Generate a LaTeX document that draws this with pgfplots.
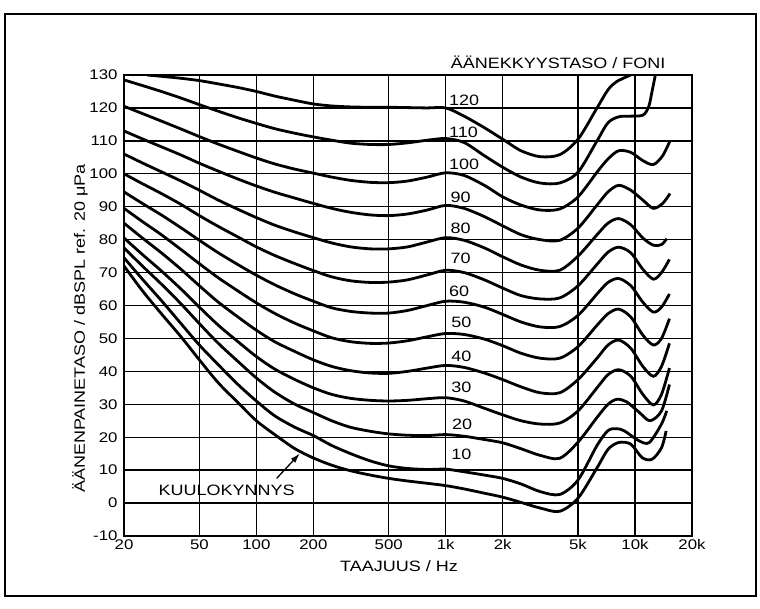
\documentclass[border=0pt]{standalone}
\usepackage{fontspec}
\setmainfont{Liberation Sans}[FakeStretch=1.2]
\usepackage{pgfplots}
\pgfplotsset{compat=1.18}
\usetikzlibrary{arrows.meta}
\tikzset{
  curve/.style={black, line width=2.8pt, smooth, tension=0.5},
  lbl/.style={anchor=west, font=\fontsize{15}{17}\selectfont, inner sep=0pt},
}

\begin{document}
\begin{tikzpicture}[x=1pt,y=1pt]
\useasboundingbox (0,0) rectangle (760,608);
\draw[line width=1.8pt] (5,12) rectangle (756,594);
\begin{axis}[
  at={(124pt,72pt)}, anchor=south west,
  scale only axis, width=568pt, height=461pt,
  xmode=log, xmin=20, xmax=20000, ymin=-10, ymax=130,
  xtick={20,50,100,200,500,1000,2000,5000,10000,20000},
  xticklabels={20,50,100,200,500,1k,2k,5k,10k,20k},
  ytick={-10,0,...,130},
  grid=major, major grid style={black, line width=1.3pt},
  major tick length=0pt,
  axis line style={line width=1.7pt},
  ticklabel style={font=\fontsize{14}{16}\selectfont},
  yticklabel style={xshift=-3pt},
  /pgf/number format/assume math mode=true,
]
% kuulokynnys
\addplot[curve] coordinates {(20,72) (25,64.5) (31.5,57.5) (40,50.5) (50,43.5) (63,36.5) (80,30.5) (100,25) (125,20.8) (160,16.5) (200,13.7) (250,11.5) (315,9.8) (400,8.5) (500,7.5) (630,6.7) (800,6) (1000,5.3) (1250,4.3) (1600,3) (2000,1.8) (2500,0.2) (3150,-1.5) (4000,-2.5) (5000,1.5) (6300,10.7) (7200,16.3) (8200,18.4) (9500,17.9) (10900,13.8) (12300,13.3) (13800,16.8) (14600,21.9)};
% 10
\addplot[curve] coordinates {(20,74.5) (25,68) (31.5,61.5) (40,54.5) (50,48) (63,42) (80,36) (100,31) (125,26.5) (160,23) (200,20.5) (250,17.5) (315,15) (400,12.8) (500,11.3) (630,10.5) (800,10.2) (1000,10.3) (1250,9.5) (1600,8.5) (2000,7.5) (2500,5.8) (3150,3.5) (4000,2.6) (5000,7) (6300,17.5) (7200,22) (8000,22.6) (8800,21.9) (10500,18.9) (11900,18.4) (13800,24) (14700,28)};
% 20
\addplot[curve] coordinates {(20,77.5) (25,72) (31.5,66.5) (40,60.5) (50,54.5) (63,48.5) (80,43) (100,38) (125,33.7) (160,30) (200,27.5) (250,25) (315,23) (400,21.8) (500,21) (630,20.6) (800,20.5) (1000,20.8) (1250,20.3) (1600,19.3) (2000,18.3) (2500,16.5) (3150,14.5) (4000,13.6) (5000,18.5) (6300,26) (7200,30) (8000,31.5) (9000,30.8) (10500,27.6) (12000,25) (13800,28) (15200,36)};
% 30
\addplot[curve] coordinates {(20,80.5) (25,75.5) (31.5,70.5) (40,65) (50,59.5) (63,54) (80,49) (100,44.5) (125,40.7) (160,37.5) (200,35) (250,33) (315,31.8) (400,31.2) (500,31) (630,31.2) (800,31.7) (1000,32) (1250,31) (1600,28.8) (2000,26.8) (2500,25) (3150,24) (4000,24.3) (5000,28) (6300,35) (7200,39) (8200,40.5) (9500,38.5) (11000,33) (12500,29.8) (13800,33) (15200,41)};
% 40
\addplot[curve] coordinates {(20,85) (25,80.5) (31.5,76) (40,71) (50,66) (63,61) (80,56.5) (100,52.5) (125,49) (160,46) (200,43.5) (250,41.5) (315,40.2) (400,39.5) (500,39.4) (630,40) (800,41) (1000,41.8) (1250,41.2) (1600,39.5) (2000,37.5) (2500,35.3) (3150,33.5) (4000,33.5) (5000,37.5) (6300,44) (7200,48) (8200,49.5) (9500,47) (11000,41.5) (12500,38.5) (13800,41.5) (15200,48.5)};
% 50
\addplot[curve] coordinates {(20,89.5) (25,85.5) (31.5,81.5) (40,77) (50,72.7) (63,68.4) (80,64.4) (100,60.8) (125,57.6) (160,54.6) (200,52.3) (250,50.2) (315,49) (400,48.5) (500,48.6) (630,49.3) (800,50.5) (1000,51.5) (1250,51.2) (1600,49.8) (2000,47.8) (2500,45.5) (3150,44) (4000,44) (5000,47.5) (6300,54) (7200,57.5) (8200,58.9) (9500,56.5) (11000,51) (12500,48) (13800,50) (15200,56)};
% 60
\addplot[curve] coordinates {(20,94.5) (25,91) (31.5,87.5) (40,83.6) (50,79.8) (63,76) (80,72.4) (100,69.2) (125,66.3) (160,63.5) (200,61.3) (250,59.3) (315,58.2) (400,57.7) (500,57.7) (630,58.5) (800,60) (1000,61.3) (1250,61) (1600,59.5) (2000,57.3) (2500,55) (3150,53.5) (4000,53.6) (5000,57) (6300,63.5) (7200,67) (8200,68.2) (9500,66) (11000,61) (12500,58) (13800,59.5) (15200,63.5)};
% 70
\addplot[curve] coordinates {(20,100) (25,97) (31.5,94) (40,90.7) (50,87.3) (63,84) (80,80.8) (100,77.8) (125,75.2) (160,72.7) (200,70.6) (250,68.7) (315,67.5) (400,67) (500,67.1) (630,67.8) (800,69.3) (1000,70.7) (1250,70) (1600,67.8) (2000,65.3) (2500,63) (3150,62) (4000,62.3) (5000,66) (6300,72.5) (7200,76.2) (8200,77.7) (9500,76) (11000,71) (12500,68) (13800,70) (15200,74)};
% 80
\addplot[curve] coordinates {(20,106) (25,103.3) (31.5,100.6) (40,97.8) (50,95) (63,92) (80,89.2) (100,86.7) (125,84.4) (160,82.3) (200,80.6) (250,79) (315,77.8) (400,77.2) (500,77.2) (630,77.8) (800,79.3) (1000,80.6) (1250,79.8) (1600,77.5) (2000,74.8) (2500,72.3) (3150,70.7) (4000,70.7) (5000,75) (6300,81.5) (7200,85) (8200,86.4) (9500,84.5) (11000,80.5) (12500,78.3) (13800,78.5) (14700,80.3)};
% 90
\addplot[curve] coordinates {(20,113) (25,110.6) (31.5,108.2) (40,105.7) (50,103.2) (63,100.8) (80,98.4) (100,96.3) (125,94.4) (160,92.6) (200,91) (250,89.5) (315,88.3) (400,87.5) (500,87.3) (630,87.8) (800,89) (1000,90.4) (1250,89.5) (1600,87) (2000,84.2) (2500,81.5) (3150,80) (4000,79.8) (5000,83.5) (6300,90.5) (7200,94.5) (8200,96.5) (9500,95) (11000,92) (12500,89.5) (14000,91) (15300,94)};
% 100
\addplot[curve] coordinates {(20,120.5) (25,118.3) (31.5,116) (40,113.6) (50,111.3) (63,109) (80,106.8) (100,104.8) (125,103) (160,101.4) (200,100.2) (250,99) (315,98) (400,97.4) (500,97.3) (630,97.8) (800,99) (1000,100.3) (1250,99.5) (1600,96.5) (2000,93) (2500,90.5) (3150,89) (4000,89.3) (5000,93) (6300,100.5) (7200,104.5) (8200,107) (9500,106.5) (11000,104) (12500,102.8) (14000,105.5) (15300,110)};
% 110
\addplot[curve] coordinates {(20,128.5) (25,126.8) (31.5,125) (40,123) (50,121) (63,119) (80,117) (100,115.3) (125,113.7) (160,112.3) (200,111.2) (250,110.2) (315,109.3) (400,108.9) (500,108.9) (630,109.4) (800,110.2) (1000,110.7) (1250,109.5) (1600,105.5) (2000,102) (2500,99) (3150,97.2) (4000,97.2) (5000,100.5) (6300,110) (7200,115.5) (8200,117.3) (9500,117.5) (11000,117.8) (11800,120.3) (12300,125) (12800,130)};
% 120
\addplot[curve] coordinates {(26.5,130) (31.5,129.6) (40,129) (50,128.3) (63,127.3) (80,126.2) (100,125) (125,123.6) (160,122.3) (200,121.2) (250,120.6) (315,120.3) (400,120.2) (500,120.2) (630,120.1) (800,120) (1000,120) (1250,117.5) (1600,114) (2000,110.5) (2500,107) (3150,105.2) (4000,105.8) (5000,110.5) (6300,120) (7200,125.5) (8000,128) (9500,130)};

\node[lbl] at (axis cs:1040,122.2) {120};
\node[lbl] at (axis cs:1040,112.6) {110};
\node[lbl] at (axis cs:1040,102.9) {100};
\node[lbl] at (axis cs:1060,92.9) {90};
\node[lbl] at (axis cs:1060,83.3) {80};
\node[lbl] at (axis cs:1060,74.2) {70};
\node[lbl] at (axis cs:1040,64.4) {60};
\node[lbl] at (axis cs:1070,54.9) {50};
\node[lbl] at (axis cs:1070,44.7) {40};
\node[lbl] at (axis cs:1070,35) {30};
\node[lbl] at (axis cs:1080,24) {20};
\node[lbl] at (axis cs:1070,14.9) {10};

\node[font=\fontsize{15}{17}\selectfont] at (axis cs:69.6,4) {KUULOKYNNYS};
\draw[-{Latex[length=10pt,width=6pt]}, line width=1.3pt] (axis cs:128,7.5) -- (axis cs:170,15.1);
\end{axis}
\node[rotate=90, anchor=west, inner sep=0pt, font=\fontsize{15}{17}\selectfont] at (80,115) {ÄÄNENPAINETASO / dBSPL ref. 20 μPa};
\node[font=\fontsize{15}{17}\selectfont] at (399,42) {TAAJUUS / Hz};
\node[anchor=east, font=\fontsize{15}{17}\selectfont] at (669,546) {ÄÄNEKKYYSTASO / FONI};
\end{tikzpicture}
\end{document}
